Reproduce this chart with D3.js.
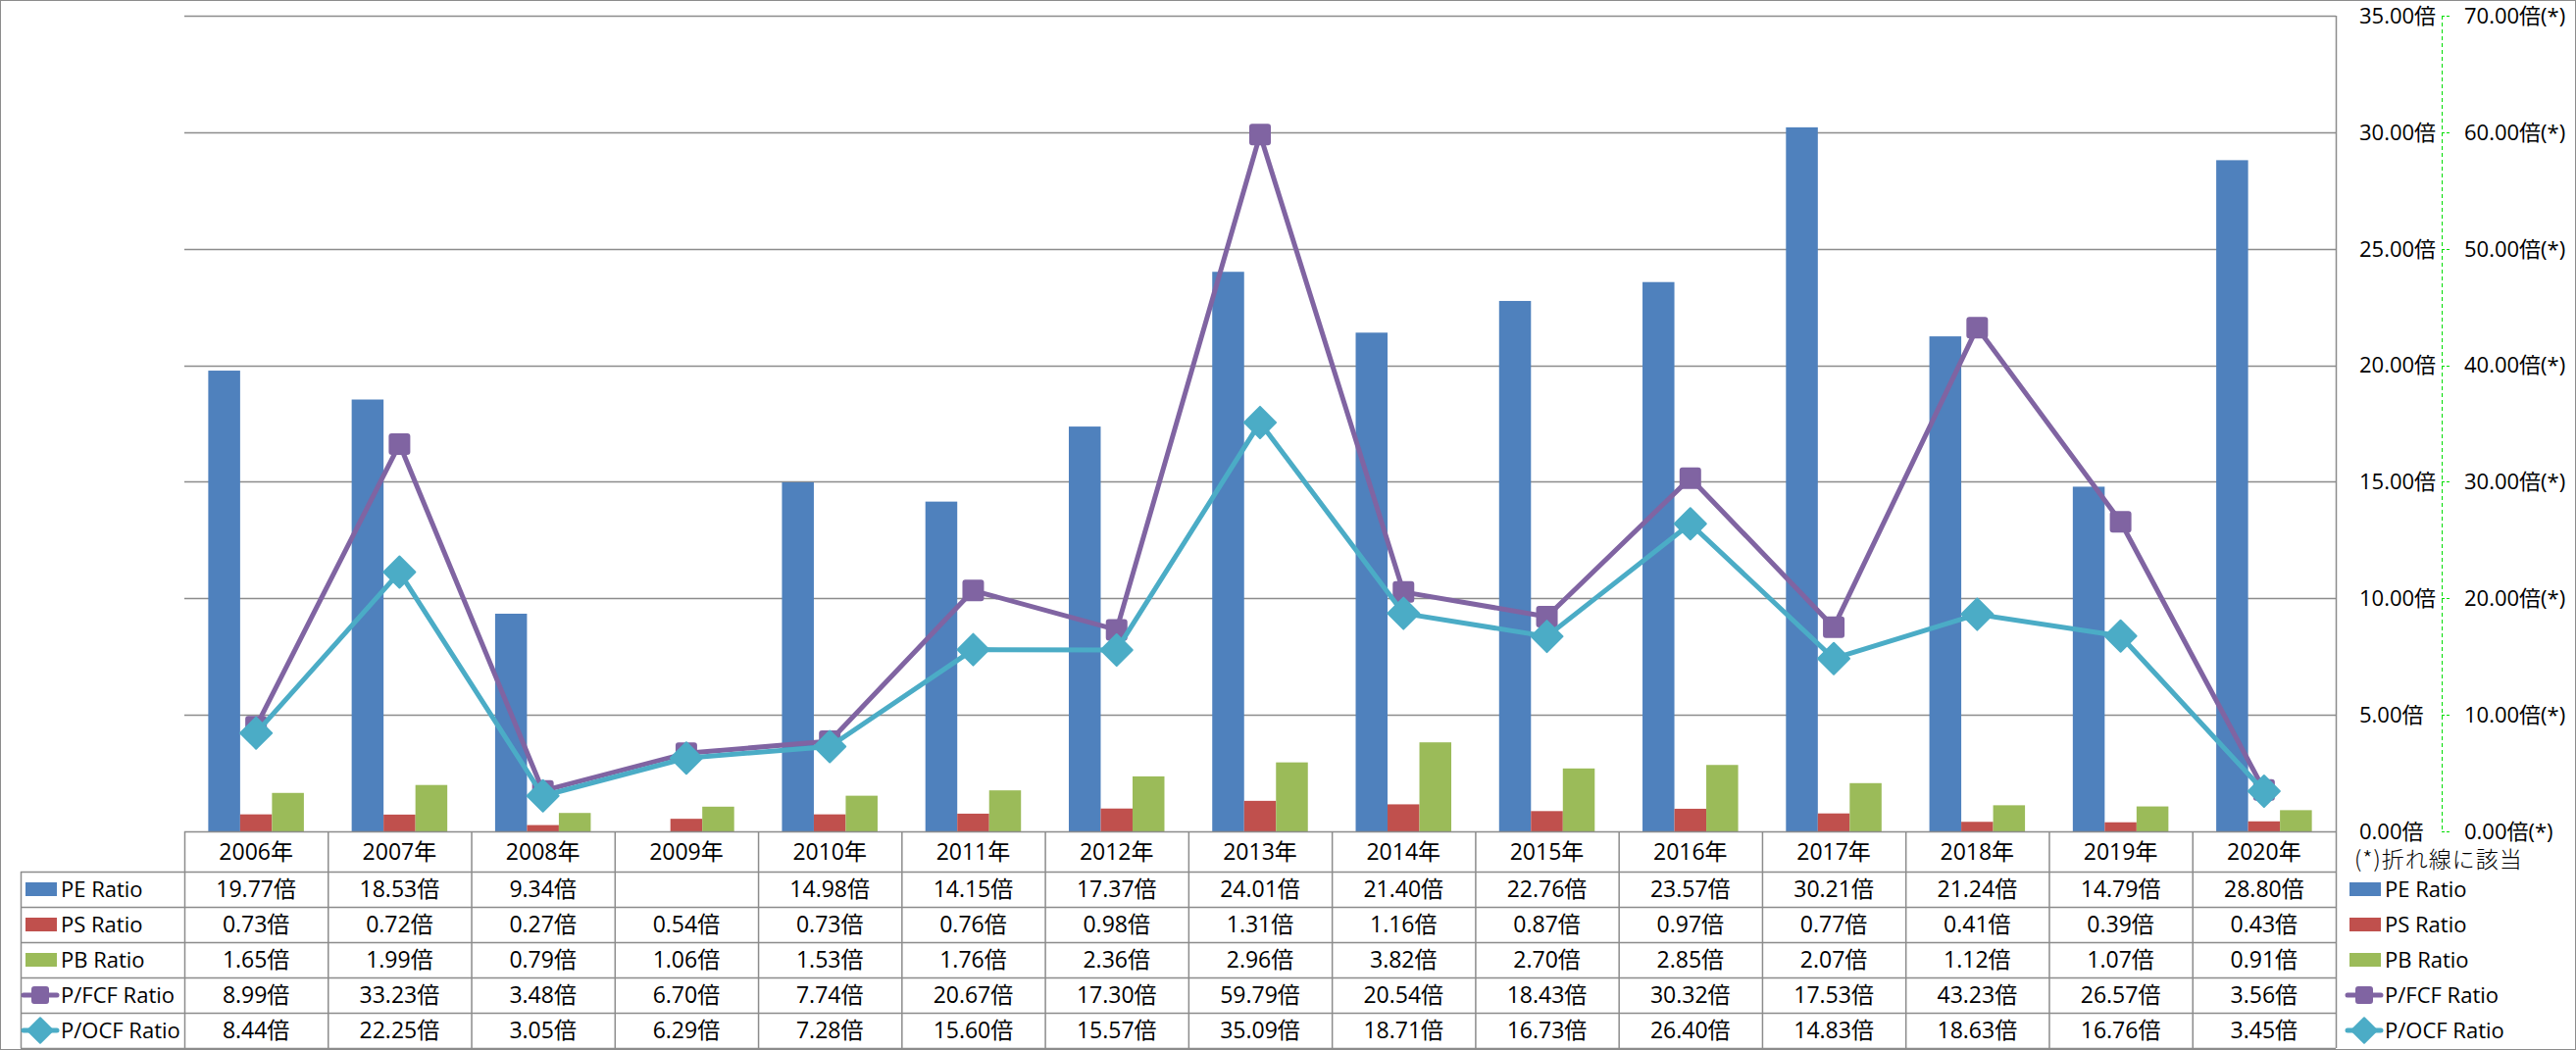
<!DOCTYPE html>
<html>
<head>
<meta charset="utf-8">
<script src="https://cdn.jsdelivr.net/npm/d3@7"></script>
<style>
  body { margin: 0; background: #fff; }
  text { font-family: "Open Sans", "Noto Sans CJK JP", sans-serif; fill: #000; }
</style>
</head>
<body>
<svg></svg>
<script>
const width = 2627;
const height = 1071;

// data
const years = ["2006年","2007年","2008年","2009年","2010年","2011年","2012年","2013年","2014年","2015年","2016年","2017年","2018年","2019年","2020年"];
const peRatio = [19.77,18.53,9.34,null,14.98,14.15,17.37,24.01,21.40,22.76,23.57,30.21,21.24,14.79,28.80];
const psRatio = [0.73,0.72,0.27,0.54,0.73,0.76,0.98,1.31,1.16,0.87,0.97,0.77,0.41,0.39,0.43];
const pbRatio = [1.65,1.99,0.79,1.06,1.53,1.76,2.36,2.96,3.82,2.70,2.85,2.07,1.12,1.07,0.91];
const pfcfRatio = [8.99,33.23,3.48,6.70,7.74,20.67,17.30,59.79,20.54,18.43,30.32,17.53,43.23,26.57,3.56];
const pocfRatio = [8.44,22.25,3.05,6.29,7.28,15.60,15.57,35.09,18.71,16.73,26.40,14.83,18.63,16.76,3.45];
const leftTicks = [0,5,10,15,20,25,30,35];
const rightTicks = [0,10,20,30,40,50,60,70];

const series = [
    {name: "PE Ratio", values: peRatio, type: "bar", color: "#4F81BD"},
    {name: "PS Ratio", values: psRatio, type: "bar", color: "#C0504D"},
    {name: "PB Ratio", values: pbRatio, type: "bar", color: "#9BBB59"},
    {name: "P/FCF Ratio", values: pfcfRatio, type: "line", marker: "square", color: "#8064A2"},
    {name: "P/OCF Ratio", values: pocfRatio, type: "line", marker: "diamond", color: "#4BACC6"}
];
const barSeries = series.filter(s => s.type === "bar");
const lineSeries = series.filter(s => s.type === "line");

const gridColor = "#8c8c8c";
const plotLeft = 188, plotRight = 2382, plotTop = 16, plotBottom = 848;
const headerH = 41, rowH = 36, tableLeft = 21;
const fs = 23;

let svg = d3.select("svg")
    .attr("width", width)
    .attr("height", height);

// outer frame
svg.append("rect")
    .attr("x", 0.5).attr("y", 0.5)
    .attr("width", width - 1).attr("height", height - 1)
    .attr("fill", "none").attr("stroke", gridColor);

const x = d3.scaleBand().domain(years).range([plotLeft, plotRight]);
const xInner = d3.scaleBand().domain(barSeries.map(s => s.name))
    .range([0, x.bandwidth()]).paddingOuter(0.75);
const y = d3.scaleLinear().domain([0, 35]).range([plotBottom, plotTop]);
const y2 = d3.scaleLinear().domain([0, 70]).range([plotBottom, plotTop]);

// gridlines
svg.append("g").selectAll("line")
    .data(leftTicks.filter(t => t > 0))
    .join("line")
    .attr("x1", plotLeft).attr("x2", plotRight)
    .attr("y1", d => Math.round(y(d)) + 0.5).attr("y2", d => Math.round(y(d)) + 0.5)
    .attr("stroke", gridColor).attr("stroke-width", 1.5);

svg.append("line")
    .attr("x1", plotRight + 0.5).attr("x2", plotRight + 0.5)
    .attr("y1", plotTop).attr("y2", height - 2)
    .attr("stroke", gridColor).attr("stroke-width", 1.5);

// left value labels
svg.append("g").selectAll("text")
    .data(leftTicks)
    .join("text")
    .attr("x", 2406).attr("y", d => y(d))
    .attr("dy", "0.36em")
    .attr("font-size", 22)
    .text(d => d.toFixed(2) + "倍");

// secondary axis (dashed green)
const axis2 = svg.append("g");
axis2.append("line")
    .attr("x1", 2490.5).attr("x2", 2490.5)
    .attr("y1", plotTop).attr("y2", plotBottom)
    .attr("stroke", "#00dd00").attr("stroke-dasharray", "4,3");
axis2.selectAll(".tk")
    .data(rightTicks)
    .join("line")
    .attr("x1", 2490).attr("x2", 2499)
    .attr("y1", d => Math.round(y2(d)) + 0.5).attr("y2", d => Math.round(y2(d)) + 0.5)
    .attr("stroke", "#00dd00").attr("stroke-dasharray", "3,2");
axis2.selectAll("text")
    .data(rightTicks)
    .join("text")
    .attr("x", 2513).attr("y", d => y2(d))
    .attr("dy", "0.36em")
    .attr("font-size", 22)
    .text(d => d.toFixed(2) + "倍(*)");

svg.append("text")
    .attr("x", 2401).attr("y", 877)
    .attr("dy", "0.36em")
    .attr("font-size", 23)
    .attr("letter-spacing", 1)
    .style("font-family", "'Noto Sans CJK JP'")
    .style("font-weight", 300)
    .text("(*)折れ線に該当");

// bars
const bars = svg.append("g");
barSeries.forEach(s => {
    bars.append("g").selectAll("rect")
        .data(years.map((yr, i) => ({yr, v: s.values[i]})).filter(d => d.v != null))
        .join("rect")
        .attr("x", d => x(d.yr) + xInner(s.name))
        .attr("width", xInner.bandwidth())
        .attr("y", d => y(d.v))
        .attr("height", d => y(0) - y(d.v))
        .attr("fill", s.color);
});

// markers
function drawMarker(g, kind, color, size) {
    if (kind === "square") {
        g.append("rect")
            .attr("x", -size / 2).attr("y", -size / 2)
            .attr("width", size).attr("height", size)
            .attr("rx", 2)
            .attr("fill", color).attr("stroke", color).attr("stroke-width", 2);
    } else {
        const r = size * 0.8;
        g.append("path")
            .attr("d", `M0,${-r}L${r},0L0,${r}L${-r},0Z`)
            .attr("fill", color).attr("stroke", color)
            .attr("stroke-width", 2).attr("stroke-linejoin", "round");
    }
}

// lines
const line = d3.line()
    .x((d, i) => x(years[i]) + x.bandwidth() / 2)
    .y(d => y2(d));

lineSeries.forEach(s => {
    const g = svg.append("g");
    g.append("path")
        .attr("d", line(s.values))
        .attr("fill", "none")
        .attr("stroke", s.color)
        .attr("stroke-width", 5)
        .attr("stroke-linejoin", "round");
    s.values.forEach((v, i) => {
        const m = g.append("g")
            .attr("transform", `translate(${x(years[i]) + x.bandwidth() / 2},${y2(v)})`);
        drawMarker(m, s.marker, s.color, 20);
    });
});

// data table
const table = svg.append("g");
const rowTop = i => plotBottom + headerH + i * rowH;
const tableBottom = rowTop(series.length);

table.append("line")
    .attr("x1", plotLeft).attr("x2", plotRight)
    .attr("y1", plotBottom + 0.5).attr("y2", plotBottom + 0.5)
    .attr("stroke", gridColor).attr("stroke-width", 1.5);
d3.range(series.length + 1).forEach(i => {
    table.append("line")
        .attr("x1", tableLeft).attr("x2", plotRight)
        .attr("y1", rowTop(i) + 0.5).attr("y2", rowTop(i) + 0.5)
        .attr("stroke", gridColor).attr("stroke-width", 1.5);
});
years.forEach(yr => {
    table.append("line")
        .attr("x1", x(yr) + 0.5).attr("x2", x(yr) + 0.5)
        .attr("y1", plotBottom).attr("y2", tableBottom)
        .attr("stroke", gridColor).attr("stroke-width", 1.5);
});
table.append("line")
    .attr("x1", tableLeft + 0.5).attr("x2", tableLeft + 0.5)
    .attr("y1", rowTop(0)).attr("y2", tableBottom)
    .attr("stroke", gridColor).attr("stroke-width", 1.5);

// header years
table.selectAll(".yr")
    .data(years)
    .join("text")
    .attr("x", d => x(d) + x.bandwidth() / 2)
    .attr("y", plotBottom + headerH / 2)
    .attr("dy", "0.36em")
    .attr("text-anchor", "middle")
    .attr("font-size", fs)
    .text(d => d);

// legend key
function legendKey(g, s, x0, yc) {
    if (s.type === "bar") {
        g.append("rect")
            .attr("x", x0).attr("y", yc - 7)
            .attr("width", 32).attr("height", 14)
            .attr("fill", s.color);
    } else {
        g.append("line")
            .attr("x1", x0 - 2).attr("x2", x0 + 32)
            .attr("y1", yc).attr("y2", yc)
            .attr("stroke", s.color).attr("stroke-width", 5)
            .attr("stroke-linecap", "round");
        const m = g.append("g").attr("transform", `translate(${x0 + 15},${yc})`);
        drawMarker(m, s.marker, s.color, 16);
    }
}

series.forEach((s, r) => {
    const yc = rowTop(r) + rowH / 2;
    legendKey(table, s, 26, yc);
    table.append("text")
        .attr("x", 62).attr("y", yc)
        .attr("dy", "0.36em")
        .attr("font-size", 22)
        .text(s.name);
    table.append("g").selectAll("text")
        .data(s.values.map((v, i) => ({v, yr: years[i]})).filter(d => d.v != null))
        .join("text")
        .attr("x", d => x(d.yr) + x.bandwidth() / 2)
        .attr("y", yc)
        .attr("dy", "0.36em")
        .attr("text-anchor", "middle")
        .attr("font-size", fs)
        .text(d => d.v.toFixed(2) + "倍");

    // right legend
    legendKey(svg, s, 2396, yc);
    svg.append("text")
        .attr("x", 2432).attr("y", yc)
        .attr("dy", "0.36em")
        .attr("font-size", 22)
        .text(s.name);
});
</script>
</body>
</html>
